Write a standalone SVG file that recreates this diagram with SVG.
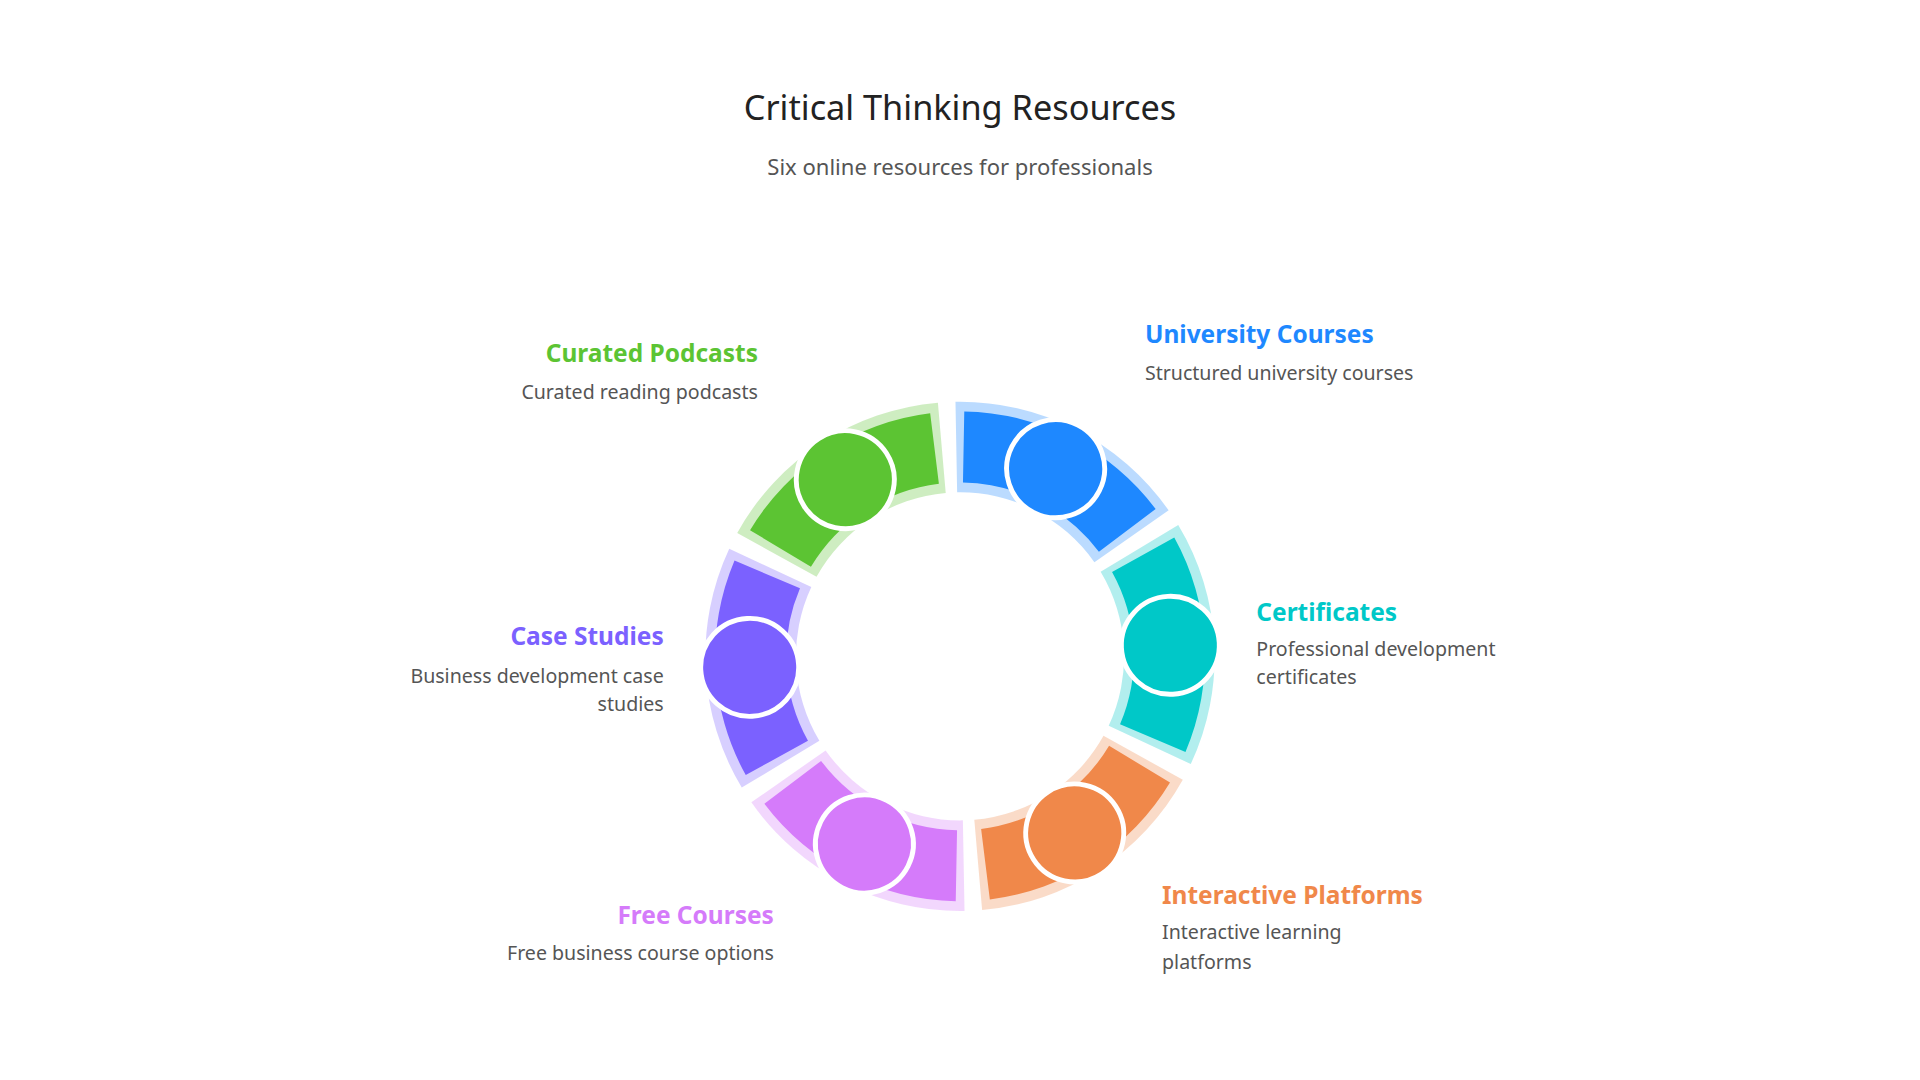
<svg xmlns="http://www.w3.org/2000/svg" width="1920" height="1080" viewBox="0 0 1920 1080">
<style>
text{font-family:"Noto Sans","Open Sans","Liberation Sans",sans-serif}
.t{font-size:28px;fill:#222}
.s{font-size:18px;fill:#555}
.h{font-size:20px;font-weight:bold}
.d{font-size:16px;fill:#555}
.c{stroke:#fff;stroke-width:4}
</style>
<defs>
<path id="seg" d="M -87.7 -179.8 A 200 200 0 0 1 87.7 -179.8 L 62.3 -127.6 A 142 142 0 0 0 -62.3 -127.6 Z"/>
<path id="halo" d="M -97.7 -183.6 A 208 208 0 0 1 97.7 -183.6 L 62.9 -118.3 A 134 134 0 0 0 -62.9 -118.3 Z"/>
</defs>
<rect width="1920" height="1080" fill="#fff"/>
<g transform="scale(1.2245)">
<text class="t" x="784" y="98" text-anchor="middle">Critical Thinking Resources</text>
<text class="s" x="784" y="143" text-anchor="middle">Six online resources for professionals</text>
<g id="university" transform="translate(784,536) rotate(27)" fill="#1E88FF"><use href="#halo" opacity="0.3"/><use href="#seg"/><circle class="c" cx="0" cy="-172" r="40"/></g>
<g id="certificates" transform="translate(784,536) rotate(87)" fill="#00C8C8"><use href="#halo" opacity="0.3"/><use href="#seg"/><circle class="c" cx="0" cy="-172" r="40"/></g>
<g id="interactive" transform="translate(784,536) rotate(147)" fill="#F0884A"><use href="#halo" opacity="0.3"/><use href="#seg"/><circle class="c" cx="0" cy="-172" r="40"/></g>
<g id="free" transform="translate(784,536) rotate(207)" fill="#D57BFA"><use href="#halo" opacity="0.3"/><use href="#seg"/><circle class="c" cx="0" cy="-172" r="40"/></g>
<g id="case" transform="translate(784,536) rotate(267)" fill="#7B61FF"><use href="#halo" opacity="0.3"/><use href="#seg"/><circle class="c" cx="0" cy="-172" r="40"/></g>
<g id="podcasts" transform="translate(784,536) rotate(327)" fill="#5CC433"><use href="#halo" opacity="0.3"/><use href="#seg"/><circle class="c" cx="0" cy="-172" r="40"/></g>
<g id="labels">
<text class="h" x="935" y="280" fill="#1E88FF">University Courses</text>
<text class="d" x="935" y="310">Structured university courses</text>
<text class="h" x="1026" y="507" fill="#00C8C8">Certificates</text>
<text class="d" x="1026" y="536">Professional development</text>
<text class="d" x="1026" y="559">certificates</text>
<text class="h" x="949" y="738" fill="#F0884A">Interactive Platforms</text>
<text class="d" x="949" y="767">Interactive learning</text>
<text class="d" x="949" y="791">platforms</text>
<text class="h" x="632" y="755" fill="#D57BFA" text-anchor="end">Free Courses</text>
<text class="d" x="632" y="784" text-anchor="end">Free business course options</text>
<text class="h" x="542" y="527" fill="#7B61FF" text-anchor="end">Case Studies</text>
<text class="d" x="542" y="558" text-anchor="end">Business development case</text>
<text class="d" x="542" y="581" text-anchor="end">studies</text>
<text class="h" x="619" y="296" fill="#5CC433" text-anchor="end">Curated Podcasts</text>
<text class="d" x="619" y="326" text-anchor="end">Curated reading podcasts</text>
</g>
</g>
</svg>
